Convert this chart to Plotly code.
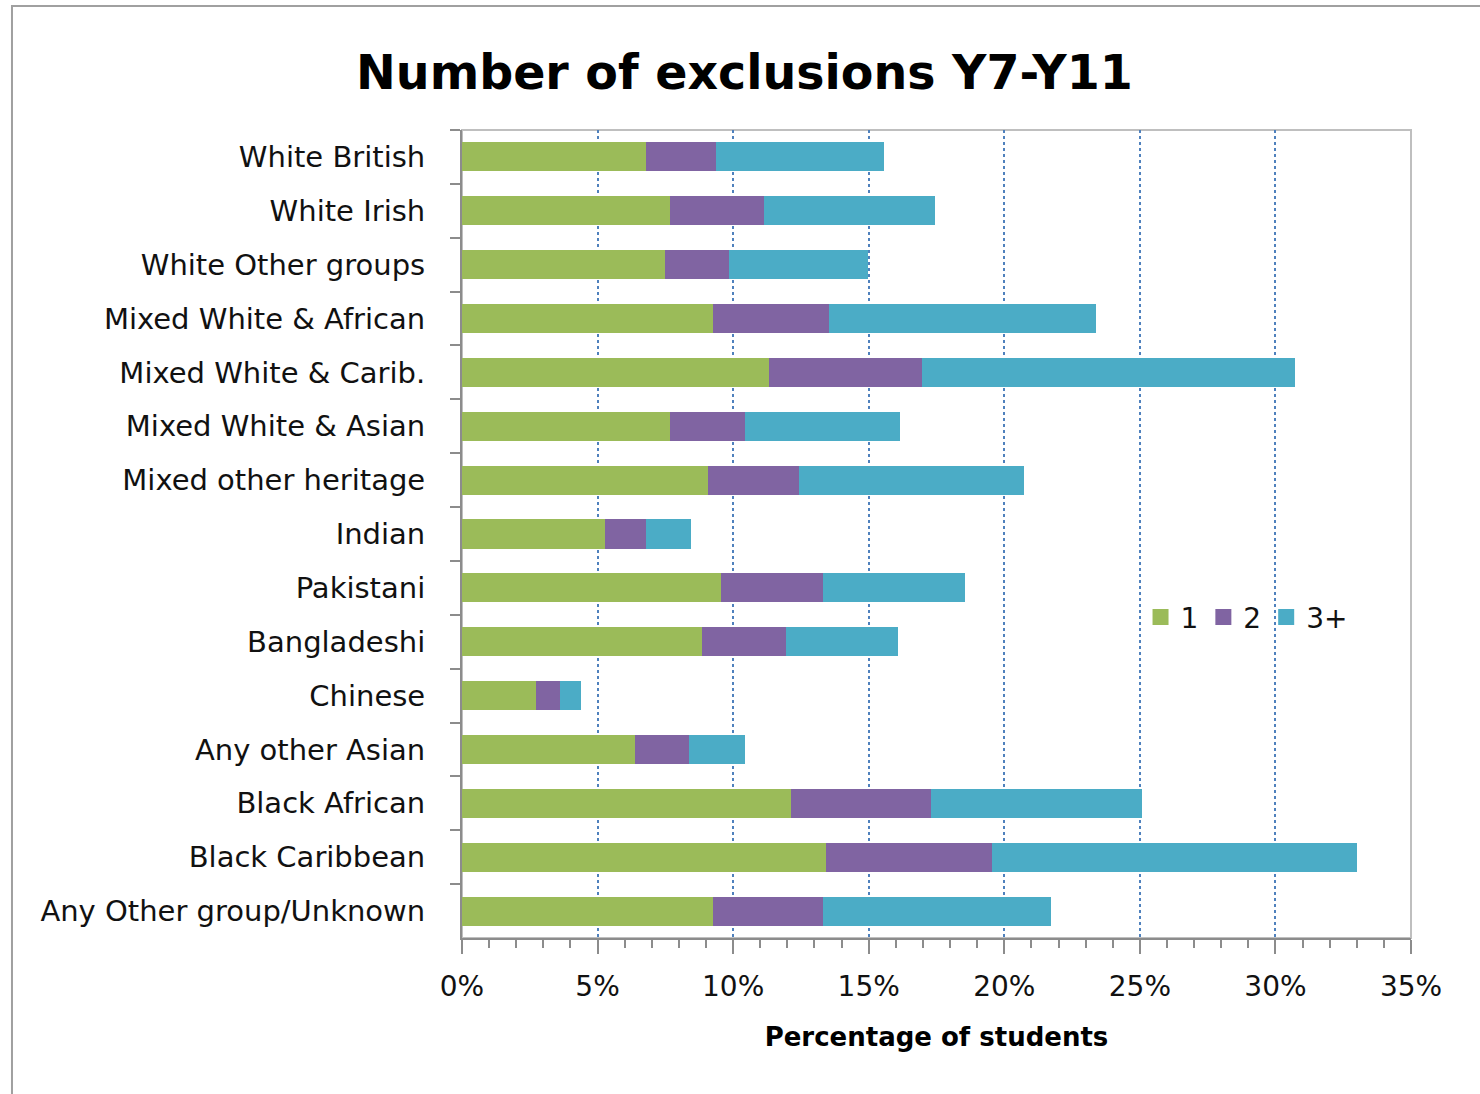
import plotly.graph_objects as go

# Ethnic groups, top to bottom
groups = [
    "White British", "White Irish", "White Other groups", "Mixed White & African",
    "Mixed White & Carib.", "Mixed White & Asian", "Mixed other heritage", "Indian",
    "Pakistani", "Bangladeshi", "Chinese", "Any other Asian", "Black African",
    "Black Caribbean", "Any Other group/Unknown",
]

# Percentage of students by number of exclusions
excl_1 = [6.79, 7.67, 7.49, 9.26, 11.32, 7.67, 9.07, 5.27, 9.55, 8.85, 2.73, 6.38, 12.14, 13.43, 9.26]
excl_2 = [2.58, 3.47, 2.36, 4.28, 5.65, 2.77, 3.36, 1.52, 3.77, 3.10, 0.88, 1.99, 5.16, 6.12, 4.06]
excl_3plus = [6.20, 6.31, 5.13, 9.85, 13.76, 5.72, 8.30, 1.66, 5.23, 4.13, 0.78, 2.07, 7.78, 13.46, 8.41]

series = [("1", excl_1, "#9BBB59"), ("2", excl_2, "#8064A2"), ("3+", excl_3plus, "#4BACC6")]

FONT = "DejaVu Sans"

fig = go.Figure()
for name, vals, color in series:
    fig.add_trace(go.Bar(
        y=groups, x=vals, name=name, orientation="h",
        marker=dict(color=color, line=dict(width=0)),
        width=0.54, legendgroup=name, showlegend=False,
    ))
# legend keys with larger square swatches
for name, vals, color in series:
    fig.add_trace(go.Scatter(
        x=[None], y=[None], mode="markers", name=name, legendgroup=name,
        marker=dict(symbol="square", size=22, color=color),
        hoverinfo="skip",
    ))

fig.update_layout(
    width=1480, height=1094,
    barmode="stack",
    paper_bgcolor="white", plot_bgcolor="white",
    margin=dict(l=462, r=69, t=130, b=156),
    font=dict(family=FONT, size=28, color="#111111"),
    title=dict(
        text="<b>Number of exclusions Y7-Y11</b>",
        font=dict(family=FONT, size=47.5, color="black"),
        x=0.503, xref="container", xanchor="center",
        y=0.934, yref="container", yanchor="middle",
    ),
    legend=dict(
        orientation="h", x=0.715, xanchor="left", y=0.397, yanchor="middle",
        font=dict(family=FONT, size=28, color="#111111"),
        bgcolor="rgba(0,0,0,0)", traceorder="normal",
        itemwidth=30, itemsizing="trace",
    ),
    bargap=0.46,
)

fig.update_xaxes(
    range=[0, 35], dtick=5, ticksuffix="%",
    showgrid=True, gridcolor="#4F81BD", gridwidth=2, griddash="dot",
    showline=True, linecolor="#8C8C8C", linewidth=2,
    ticks="outside", ticklen=14, tickwidth=2, tickcolor="#8C8C8C",
    minor=dict(dtick=1, ticks="outside", ticklen=8, tickwidth=2, tickcolor="#8C8C8C", showgrid=False),
    ticklabelstandoff=8,
    zeroline=False,
    title=dict(text="<b>Percentage of students</b>", font=dict(family=FONT, size=26, color="black"), standoff=26),
    tickfont=dict(family=FONT, size=28, color="#111111"),
)

fig.update_yaxes(
    categoryorder="array", categoryarray=groups, autorange="reversed",
    showline=True, linecolor="#8C8C8C", linewidth=2,
    ticks="outside", ticklen=10, tickwidth=2, tickcolor="#8C8C8C",
    tickson="boundaries", showgrid=False,
    ticklabelstandoff=29,
    tickfont=dict(family=FONT, size=29, color="#111111"),
)

# plot-area frame (top and right edges)
fig.add_shape(type="rect", xref="paper", yref="paper", x0=0, x1=1, y0=0, y1=1,
              line=dict(color="#BFBFBF", width=2), layer="below")
# outer chart frame
fig.add_shape(type="rect", xref="paper", yref="paper",
              x0=-0.4742, x1=1.09, y0=-0.21, y1=1.1535,
              line=dict(color="#A0A0A0", width=2), layer="below")

fig.write_html("out.html")
